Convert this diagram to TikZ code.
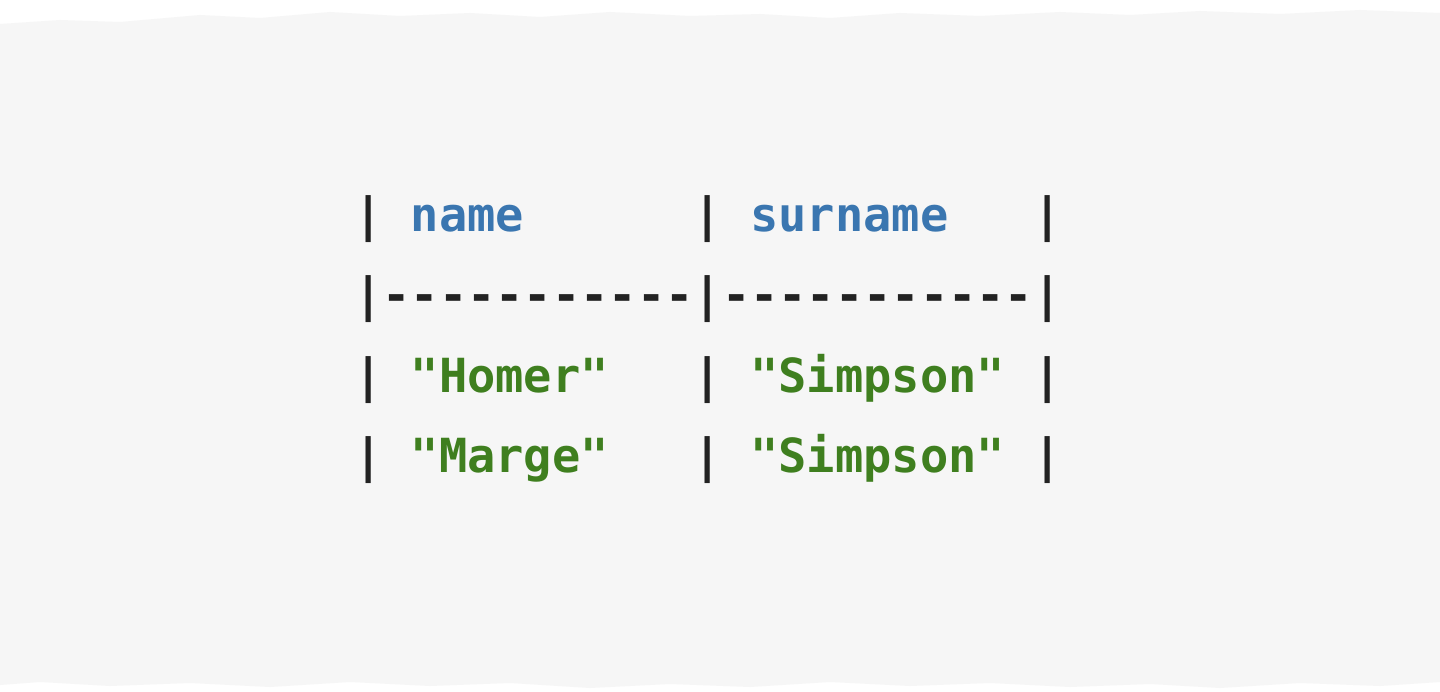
\documentclass[tikz,border=0pt]{standalone}
\usepackage{fontspec}
\setmonofont{DejaVu Sans Mono}
\definecolor{bg}{HTML}{F6F6F6}
\definecolor{kblue}{HTML}{3A76B0}
\definecolor{kgreen}{HTML}{3F7F1F}
\definecolor{kbar}{HTML}{222222}
\begin{document}
\begin{tikzpicture}[x=1pt,y=1pt,
  row/.style={anchor=base west,inner sep=0pt,font=\fontsize{47}{47}\selectfont\ttfamily\bfseries,text=kbar}]
\useasboundingbox (0,0) rectangle (1440,-692);
\fill[white] (0,0) rectangle (1440,-692);
\fill[bg] (0,-24) -- (60,-20) -- (120,-22) -- (200,-15) -- (260,-18) -- (330,-12) -- (400,-16) -- (470,-13) -- (540,-17) -- (610,-12) -- (690,-16) -- (760,-14) -- (830,-18) -- (900,-13) -- (980,-16) -- (1060,-12) -- (1130,-15) -- (1200,-11) -- (1280,-14) -- (1360,-10) -- (1440,-13)
  -- (1440,-682) -- (1380,-686) -- (1300,-683) -- (1220,-688) -- (1150,-684) -- (1070,-687) -- (990,-683) -- (910,-686) -- (830,-682) -- (750,-687) -- (670,-684) -- (590,-688) -- (510,-683) -- (430,-686) -- (350,-682) -- (270,-687) -- (190,-683) -- (110,-686) -- (40,-682) -- (0,-685) -- cycle;
\node[row] (r1) at (354,-232) {|\textcolor{kblue}{\ name\ \ \ \ \ \ }|\textcolor{kblue}{\ surname\ \ \ }|};
\node[row] (r2) at (354,-312) {|-----------|-----------|};
\node[row] (r3) at (354,-392) {|\textcolor{kgreen}{\ "Homer"\ \ \ }|\textcolor{kgreen}{\ "Simpson"\ }|};
\node[row] (r4) at (354,-472) {|\textcolor{kgreen}{\ "Marge"\ \ \ }|\textcolor{kgreen}{\ "Simpson"\ }|};
\end{tikzpicture}
\end{document}
